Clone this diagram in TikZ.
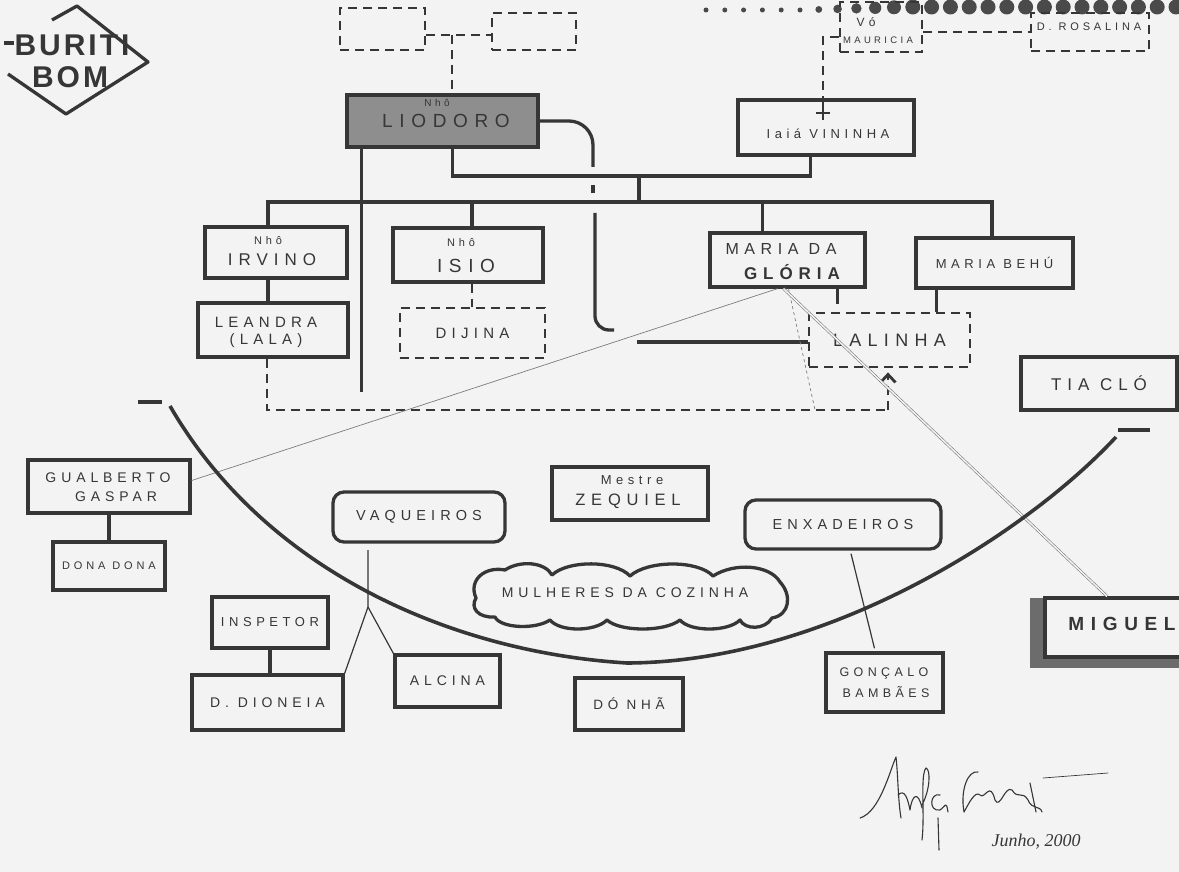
\documentclass[tikz,border=0pt]{standalone}
\usepackage{fontspec}
\setmainfont{Liberation Sans}
\newfontfamily\hand[LetterSpace=35]{Liberation Sans}
\newfontfamily\handb[LetterSpace=10]{Liberation Sans}
\newfontfamily\scr{Liberation Serif}
\usetikzlibrary{calc,arrows.meta}
\definecolor{ink}{HTML}{363636}
\definecolor{paper}{HTML}{F3F3F3}
\definecolor{faint}{HTML}{7C7C7C}
\definecolor{shade}{HTML}{8E8E8E}
\definecolor{shadowc}{HTML}{6C6C6C}
\newcommand\hs[1]{\hand\fontsize{#1}{#1}\selectfont}
\tikzset{
 box/.style={draw=ink, line width=3.3pt, inner sep=0pt, text=ink},
 dbox/.style={draw=ink, line width=2.8pt, dash pattern=on 9pt off 6pt, inner sep=0pt, text=ink},
 rbox/.style={box, rounded corners=11pt},
 lbl/.style={inner sep=0pt, text=ink, font=\hs{#1}},
 ln/.style={draw=ink, line width=3.3pt},
 dln/.style={draw=ink, line width=2.8pt, dash pattern=on 9pt off 6pt},
 fine/.style={draw=ink, line width=1.2pt},
 faintln/.style={draw=faint, line width=0.7pt},
 sig/.style={draw=ink, line width=1.1pt, line cap=round, line join=round},
}
\begin{document}
\begin{tikzpicture}[x=1pt,y=-1pt]
\useasboundingbox (0,0) rectangle (1179,872);
\fill[paper] (0,0) rectangle (1179,872);

% ---------- dots along the top ----------
\foreach \i in {0,...,25} {
  \pgfmathsetmacro\xx{706+18.8*\i}
  \pgfmathsetmacro\rr{min(7.5,2.5+max(0,\i-5)*0.9)}
  \pgfmathsetmacro\yy{10-0.6*(\rr-2.5)}
  \fill[ink!90] (\xx,\yy) circle[radius=\rr pt];
}

% ---------- Buriti Bom ----------
\draw[ln, line join=round] (52,20) -- (77,6) -- (148,62) -- (66,114) -- (8,74);
\draw[ln] (4,43) -- (14,43);
\node[inner sep=0pt, text=ink, font=\handb\fontsize{30}{30}\selectfont\bfseries] (buriti) at (72,45) {BURITI};
\node[inner sep=0pt, text=ink, font=\handb\fontsize{30}{30}\selectfont\bfseries] (bom) at (70,77) {BOM};

% ---------- nodes ----------
\node[dbox, minimum width=85pt, minimum height=42pt] (topA) at (382.5,29) {};
\node[dbox, minimum width=84pt, minimum height=37pt] (topB) at (534,31.5) {};
\node[box, fill=shade, minimum width=191pt, minimum height=52pt] (liodoro) at (442.5,121) {};
\node[lbl=10] (liodoroN) at (437,103) {Nhô};
\node[lbl=19] (liodoroT) at (446,121) {LIODORO};

\node[dbox, minimum width=82pt, minimum height=50pt] (mauricia) at (881,27) {};
\node[lbl=12] (mauriciaA) at (866,22) {Vó};
\node[lbl=9.5] (mauriciaB) at (878,40) {MAURICIA};
\node[dbox, minimum width=118pt, minimum height=38pt] (rosalina) at (1090,32) {};
\node[lbl=11] (rosalinaT) at (1089,27) {D. ROSALINA};

\node[box, minimum width=176pt, minimum height=55pt] (iaia) at (826,127.5) {};
\node[lbl=13] (iaiaT) at (828,134) {Iaiá VININHA};

\node[box, minimum width=142pt, minimum height=51pt] (irvino) at (276,252.5) {};
\node[lbl=11] (irvinoN) at (268,241) {Nhô};
\node[lbl=17] (irvinoT) at (272,260) {IRVINO};
\node[box, minimum width=150pt, minimum height=54pt] (isio) at (468,255) {};
\node[lbl=11] (isioN) at (461,243) {Nhô};
\node[lbl=19] (isioT) at (466,266) {ISIO};
\node[box, minimum width=155pt, minimum height=54pt] (gloria) at (787.5,260) {};
\node[lbl=16] (gloriaA) at (781,249) {MARIA DA};
\node[inner sep=0pt, text=ink, font=\hs{17}\bfseries] (gloriaB) at (792,272) {GLÓRIA};
\node[box, minimum width=157pt, minimum height=50pt, font=\hs{13}] (behu) at (994.5,263) {MARIA BEHÚ};
\node[dbox, minimum width=161pt, minimum height=54pt, font=\hs{18}] (lalinha) at (889.5,340) {LALINHA};

\node[box, minimum width=150pt, minimum height=54pt] (leandra) at (273,330) {};
\node[lbl=15] (leandraA) at (266,322) {LEANDRA};
\node[lbl=15] (leandraB) at (266,341) {(LALA)};
\node[dbox, minimum width=145pt, minimum height=50pt, font=\hs{15}] (dijina) at (472.5,333) {DIJINA};
\node[box, minimum width=156pt, minimum height=53pt, font=\hs{17}] (tiaclo) at (1099,383.5) {TIA CLÓ};

\node[box, minimum width=162pt, minimum height=53pt] (gualberto) at (109,486.5) {};
\node[lbl=14] (gualbertoA) at (108,478) {GUALBERTO};
\node[lbl=14] (gualbertoB) at (116,497) {GASPAR};
\node[box, minimum width=112pt, minimum height=48pt, font=\hs{11}] (donadona) at (109,566) {DONA DONA};
\node[rbox, minimum width=172pt, minimum height=50pt, font=\hs{14.5}] (vaqueiros) at (419,517) {VAQUEIROS};
\node[box, minimum width=156pt, minimum height=53pt] (zequiel) at (630,493.5) {};
\node[lbl=13] (zequielA) at (632,480) {Mestre};
\node[lbl=16.5] (zequielB) at (628,501) {ZEQUIEL};
\node[rbox, minimum width=196pt, minimum height=49pt, font=\hs{14.5}] (enxadeiros) at (843,524.5) {ENXADEIROS};
\node[lbl=14] (mulheres) at (625,593) {MULHERES DA COZINHA};
\node[box, minimum width=116pt, minimum height=51pt, font=\hs{13}] (inspetor) at (270,622.5) {INSPETOR};
\node[box, minimum width=151pt, minimum height=55pt, font=\hs{14}] (dioneia) at (267.5,702.5) {D. DIONEIA};
\node[box, minimum width=105pt, minimum height=52pt, font=\hs{14}] (alcina) at (447.5,681) {ALCINA};
\node[box, minimum width=108pt, minimum height=52pt, font=\hs{13.5}] (donha) at (629,704) {DÓ NHÃ};
\node[box, minimum width=117pt, minimum height=59pt] (goncalo) at (884.5,682.5) {};
\node[lbl=12.5] (goncaloA) at (884,673) {GONÇALO};
\node[lbl=12.5] (goncaloB) at (886,692) {BAMBÃES};
\fill[shadowc] (1030,598) rectangle (1190,668);
\node[box, fill=paper, minimum width=145pt, minimum height=59pt] (miguel) at (1117.5,627.5) {};
\node[inner sep=0pt, text=ink, font=\hs{19}\bfseries] (miguelT) at (1122,624) {MIGUEL};

% cloud round Mulheres da Cozinha
\draw[ln, line join=round] (476,598)
 .. controls (468,580) and (485,566) .. (505,570)
 .. controls (520,560) and (545,562) .. (552,575)
 .. controls (568,560) and (615,560) .. (630,576)
 .. controls (648,560) and (698,560) .. (713,576)
 .. controls (735,562) and (770,565) .. (780,582)
 .. controls (792,595) and (790,615) .. (772,618)
 .. controls (765,630) and (745,630) .. (740,620)
 .. controls (728,632) and (690,632) .. (680,620)
 .. controls (665,632) and (620,632) .. (607,620)
 .. controls (595,632) and (560,632) .. (550,620)
 .. controls (535,630) and (500,628) .. (495,617)
 .. controls (478,618) and (470,608) .. (476,598) -- cycle;

% ---------- connectors: top ----------
\coordinate (topJ) at (452,35);
\draw[dln] (topA.east |- topJ) -- (topB.west |- topJ);
\draw[dln] (topJ) -- (topJ |- liodoro.north);
\coordinate (mr) at (980,32);
\draw[dln] (mauricia.east |- mr) -- (rosalina.west |- mr);
\coordinate (mi) at (823,37);
\draw[dln] (mauricia.west |- mi) -- (mi) -- (mi |- iaia.north);
\coordinate (crs) at (823,113);
\draw[ink, line width=1.3pt] (mi |- iaia.north) -- ++(0,22);
\draw[ink, line width=1.3pt] ($(crs)+(-7,0)$) -- ($(crs)+(7,0)$);

% ---------- family tree ----------
\coordinate (lioA) at ($(liodoro.south west)!0.084!(liodoro.south east)$);
\coordinate (lioB) at ($(liodoro.south west)!0.55!(liodoro.south east)$);
\coordinate (busL) at (268,202);
\coordinate (busR) at (992,202);
\coordinate (hUp) at (639,176);
\coordinate (iaiaD) at ($(iaia.south west)!0.415!(iaia.south east)$);
\coordinate (vLow) at (363,392);
\draw[ln] (lioA) -- (lioA |- vLow);
\draw[ln] (lioB) |- (iaiaD |- hUp) -- (iaiaD);
\draw[ln] (hUp) -- (hUp |- busL);
\draw[ln] (busL |- irvino.north) |- (busR) -- (busR |- behu.north);
\coordinate (isD) at ($(isio.north)+(4,0)$);
\draw[ln] (isD |- busL) -- (isD);
\coordinate (glT) at ($(gloria.north west)!0.34!(gloria.north east)$);
\draw[ln] (glT |- busL) -- (glT);

\coordinate (cvA) at (593,167);
\draw[ln, rounded corners=24pt] (liodoro.east) -| (cvA);
\coordinate (cvDot) at (593,189);
\draw[ln] ($(cvDot)+(0,-4)$) -- ($(cvDot)+(0,4)$);
\coordinate (cvB) at (595,213);
\coordinate (cvC) at (614,330);
\draw[ln, rounded corners=14pt] (cvB) |- (cvC);
\coordinate (laL) at (637,342);
\draw[ln] (laL) -- (laL -| lalinha.west);

\coordinate (glB) at ($(gloria.south west)!0.815!(gloria.south east)$);
\draw[ln] (glB) -- ++(0,15);
\coordinate (beB) at ($(behu.south west)!0.14!(behu.south east)$);
\draw[ln] (beB) -- (beB |- lalinha.north);

\draw[ln] (busL |- irvino.south) -- (busL |- leandra.north);
\draw[dln] (isD |- isio.south) -- (isD |- dijina.north);

\coordinate (dL) at (267,410);
\coordinate (dR) at (888,410);
\coordinate (laB) at ($(lalinha.south)+(-1.5,4)$);
\draw[dln] (dL |- leandra.south) -- (dL) -- (dR);
\draw[dln, -{Straight Barb[length=8pt,width=15pt]}] (dR) -- (laB);

% thin lines
\coordinate (fdE) at (815,410);
\draw[faintln, dash pattern=on 3pt off 3pt] ($(gloria.south)+(1,0)$) -- (fdE);
\coordinate (glS) at ($(gloria.south)+(-10,0)$);
\draw[faintln] ($(gualberto.east)+(0,-6)$) -- (glS);
\coordinate (miT) at ($(miguel.north west)!0.43!(miguel.north east)$);
\draw[draw=faint, line width=0.6pt, double=paper, double distance=1.5pt] ($(gloria.south)+(-4,0)$) -- (miT);

% ---------- lower groups ----------
\coordinate (arcL) at (170,406);
\coordinate (arcM) at (627,663);
\coordinate (arcR) at (1116,437);
\draw[ln, line width=3.6pt] (arcL) .. controls (265,570) and (450,652) .. (arcM) .. controls (830,662) and (1030,530) .. (arcR);
\coordinate (tkL) at (150,402);
\draw[ln] ($(tkL)+(-12,0)$) -- ($(tkL)+(12,0)$);
\coordinate (tkR) at (1134,430);
\draw[ln] ($(tkR)+(-16,0)$) -- ($(tkR)+(16,0)$);

\draw[ln] (gualberto.south) -- (donadona.north);
\draw[ln] (inspetor.south) -- (inspetor.south |- dioneia.north);
\coordinate (vqB) at (368,550);
\coordinate (vqF) at (368,607);
\draw[fine] (vqB) -- (vqF) -- (dioneia.north east);
\draw[fine] (vqF) -- (alcina.north west);
\draw[fine] ($(enxadeiros.south)+(8,3)$) -- ($(goncalo.north)+(-10,-3)$);

% ---------- signature ----------
\draw[sig] (860,818) .. controls (880,812) and (890,770) .. (896,757) .. controls (898,775) and (898,800) .. (901,818);
\draw[sig] (898,795) .. controls (905,788) and (908,800) .. (910,810) .. controls (912,795) and (918,790) .. (922,808);
\draw[sig] (922,805) .. controls (930,790) and (931,770) .. (926,768) .. controls (920,775) and (925,815) .. (922,840);
\draw[sig] (940,795) .. controls (930,792) and (928,812) .. (940,810) .. controls (946,806) and (946,800) .. (948,812);
\draw[sig] (978,772) .. controls (968,770) and (960,790) .. (964,812) .. controls (968,805) and (975,790) .. (980,795) .. controls (985,800) and (990,780) .. (995,800) .. controls (1000,810) and (1005,785) .. (1012,790) .. controls (1018,800) and (1022,790) .. (1028,800) .. controls (1032,810) and (1040,805) .. (1042,812);
\draw[sig] (1030,783) -- (1036,812);
\draw[sig, line width=0.7pt] (1043,778) -- (1108,773);
\draw[sig] (938,818) -- (939,850);
\node[inner sep=0pt, text=ink, font=\scr\itshape\fontsize{18}{18}\selectfont] (date) at (1036,842) {Junho, 2000};
\end{tikzpicture}
\end{document}
